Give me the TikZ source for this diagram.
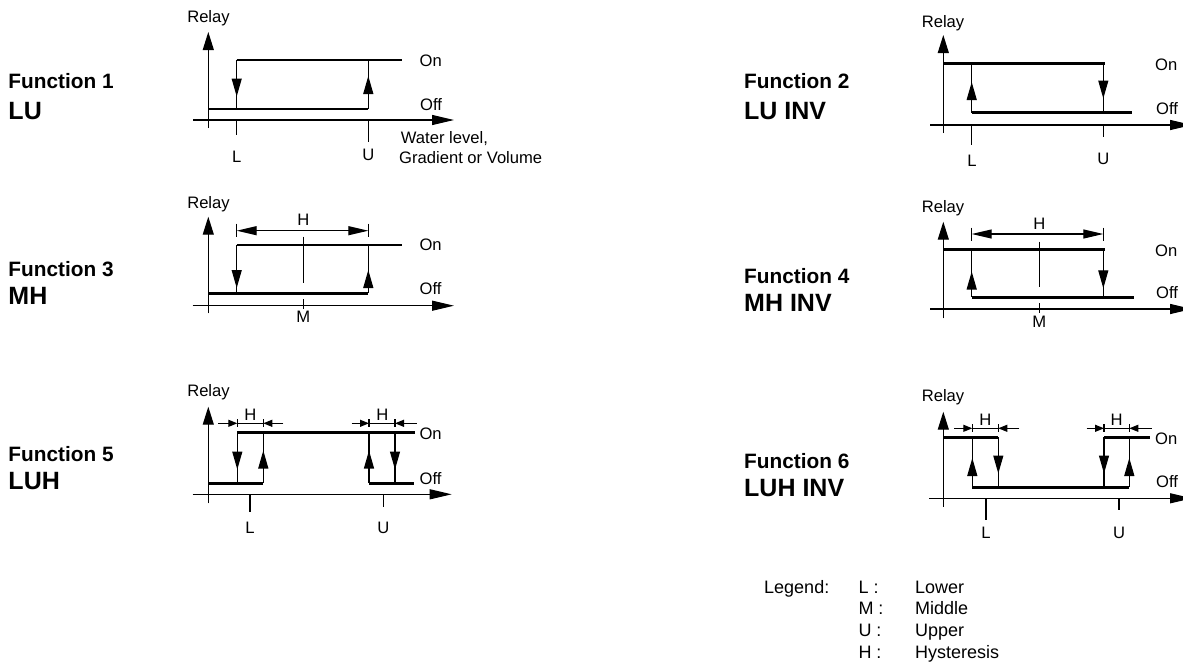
\documentclass[tikz,border=0pt]{standalone}
\usepackage{fontspec}
\setmainfont{Liberation Sans}
\usetikzlibrary{arrows.meta}
\tikzset{
  tr/.style={line width=1.2pt},
  lvl/.style={line width=2.6pt},
  trarr/.style={line width=1.2pt,-{Triangle[length=18pt,width=10pt]}},
  yarr/.style={line width=1.2pt,-{Triangle[length=18pt,width=11pt]}},
  xarr/.style={line width=1.2pt,-{Triangle[length=22pt,width=10pt]}},
  harr/.style={line width=1.2pt,-{Triangle[length=9pt,width=7pt]}},
  dimarr/.style={line width=1.2pt,{Triangle[length=20pt,width=9pt]}-{Triangle[length=20pt,width=9pt]}},
  lbl/.style={font=\fontsize{16.6}{19}\selectfont, inner sep=0pt, anchor=base},
  lbll/.style={lbl, anchor=base west},
  fn/.style={font=\fontsize{20.8}{24}\selectfont\bfseries, anchor=base west, inner sep=0pt},
  nm/.style={font=\fontsize{25}{30}\selectfont\bfseries, anchor=base west, inner sep=0pt},
  leg/.style={font=\fontsize{18}{21}\selectfont, anchor=base west, inner sep=0pt},
}
\begin{document}
\begin{tikzpicture}[x=1pt,y=-1pt]
\useasboundingbox (0,0) rectangle (1183,662);

% ---------- Function labels ----------
\node[fn] (f1) at (8.3,88) {Function 1};
\node[nm] (n1) at (8.3,119) {LU};
\node[fn] (f2) at (744,88) {Function 2};
\node[nm] (n2) at (744,119) {LU INV};
\node[fn] (f3) at (8.3,276) {Function 3};
\node[nm] (n3) at (8.3,304) {MH};
\node[fn] (f4) at (744,283) {Function 4};
\node[nm] (n4) at (744,311) {MH INV};
\node[fn] (f5) at (8.3,461) {Function 5};
\node[nm] (n5) at (8.3,489) {LUH};
\node[fn] (f6) at (744,468) {Function 6};
\node[nm] (n6) at (744,496) {LUH INV};

% ---------- Panel 1: LU ----------
\draw[yarr] (208.3,128) -- (208.3,32);
\draw[xarr] (193,120) -- (454,120);
\draw[lvl] (236.7,60) -- (401.7,60);
\draw[lvl] (208.3,109) -- (368.3,109);
\draw[tr] (236.7,60) -- (236.7,109);
\draw[trarr] (236.7,78.5) -- (236.7,96.5);
\draw[tr] (368.3,60) -- (368.3,109);
\draw[trarr] (368.3,94) -- (368.3,76);
\draw[tr] (236.7,120) -- (236.7,135);
\draw[tr] (368.3,120) -- (368.3,142);
\node[lbl] (p1relay) at (208.5,22.7) {Relay};
\node[lbll] (p1on) at (419.5,66) {On};
\node[lbll] (p1off) at (420,110) {Off};
\node[lbl] (p1l) at (236.7,162.7) {L};
\node[lbl] (p1u) at (368.3,160.7) {U};
\node[lbll] (p1w1) at (400.7,143.3) {Water level,};
\node[lbll] (p1w2) at (399,163.3) {Gradient or Volume};

% ---------- Panel 2: LU INV ----------
\draw[yarr] (943.3,133) -- (943.3,35);
\draw[xarr] (930,125) -- (1192,125);
\draw[lvl] (943.3,63.3) -- (1105,63.3);
\draw[lvl] (971.7,112.7) -- (1132.3,112.7);
\draw[tr] (971.7,63.3) -- (971.7,112.7);
\draw[trarr] (971.7,100) -- (971.7,82);
\draw[tr] (1103.3,63.3) -- (1103.3,112.7);
\draw[trarr] (1103.3,80) -- (1103.3,98.5);
\draw[tr] (971.7,125) -- (971.7,145);
\draw[tr] (1103.3,125) -- (1103.3,136.7);
\node[lbl] (p2relay) at (943,27.3) {Relay};
\node[lbll] (p2on) at (1155,70.7) {On};
\node[lbll] (p2off) at (1156,114) {Off};
\node[lbl] (p2l) at (972,166.7) {L};
\node[lbl] (p2u) at (1103.3,164) {U};

% ---------- Panel 3: MH ----------
\draw[yarr] (208.3,313.3) -- (208.3,216.7);
\draw[xarr] (192.7,305.7) -- (454,305.7);
\draw[lvl] (236.7,245) -- (401.7,245);
\draw[lvl] (208.3,293.3) -- (368.3,293.3);
\draw[tr] (236.7,245) -- (236.7,293.3);
\draw[trarr] (236.7,270) -- (236.7,288);
\draw[tr] (368.3,245) -- (368.3,293.3);
\draw[trarr] (368.3,288) -- (368.3,270);
\draw[tr] (303.3,236.7) -- (303.3,283.3);
\draw[tr] (303.3,299) -- (303.3,309);
\draw[dimarr] (236.7,230.7) -- (368.3,230.7);
\draw[tr] (236.7,223.7) -- (236.7,237);
\draw[tr] (368.3,223.7) -- (368.3,237);
\node[lbl] (p3relay) at (208.5,208.3) {Relay};
\node[lbl] (p3h) at (303.3,225.7) {H};
\node[lbll] (p3on) at (419.3,250.7) {On};
\node[lbll] (p3off) at (419.5,294.3) {Off};
\node[lbl] (p3m) at (303.3,322.3) {M};

% ---------- Panel 4: MH INV ----------
\draw[yarr] (943.3,318.3) -- (943.3,221.7);
\draw[xarr] (930,309) -- (1192,309);
\draw[lvl] (943.3,249.3) -- (1105,249.3);
\draw[lvl] (971.7,297.3) -- (1134.3,297.3);
\draw[tr] (971.7,249.3) -- (971.7,297.3);
\draw[trarr] (971.7,289.5) -- (971.7,271.5);
\draw[tr] (1103.3,249.3) -- (1103.3,297.3);
\draw[trarr] (1103.3,270) -- (1103.3,288.3);
\draw[tr] (1039.3,241.7) -- (1039.3,287.3);
\draw[tr] (1039.3,303.3) -- (1039.3,313);
\draw[dimarr] (971.7,234) -- (1103.3,234);
\draw[tr] (971.7,227.5) -- (971.7,240.5);
\draw[tr] (1103.3,227.5) -- (1103.3,240.5);
\node[lbl] (p4relay) at (943,212.7) {Relay};
\node[lbl] (p4h) at (1039.3,229.3) {H};
\node[lbll] (p4on) at (1155,256) {On};
\node[lbll] (p4off) at (1156,298.3) {Off};
\node[lbl] (p4m) at (1039.3,327.3) {M};

% ---------- Panel 5: LUH ----------
\draw[yarr] (208.3,503.3) -- (208.3,406.7);
\draw[xarr] (192.7,494.3) -- (451.7,494.3);
\draw[lvl] (237.3,432.7) -- (415,432.7);
\draw[lvl] (208.3,483.3) -- (263.3,483.3);
\draw[lvl] (369,483.3) -- (414,483.3);
\draw[tr] (237.3,432.7) -- (237.3,483.3);
\draw[trarr] (237.3,451) -- (237.3,469.5);
\draw[tr] (263.3,432.7) -- (263.3,483.3);
\draw[trarr] (263.3,469) -- (263.3,450.5);
\draw[tr] (369,432.7) -- (369,483.3);
\draw[trarr] (369,469) -- (369,450.5);
\draw[tr] (395,432.7) -- (395,483.3);
\draw[trarr] (395,451) -- (395,469.5);
\draw[tr] (250,494.3) -- (250,511.7);
\draw[tr] (383.3,494.3) -- (383.3,506.7);
% H dimensions
\draw[harr] (218.3,423.3) -- (237.3,423.3);
\draw[tr] (237.3,423.3) -- (263.3,423.3);
\draw[harr] (283.3,423.3) -- (263.3,423.3);
\draw[tr] (237.3,419.3) -- (237.3,427.3);
\draw[tr] (263.3,419.3) -- (263.3,427.3);
\draw[harr] (351.7,423.3) -- (369,423.3);
\draw[tr] (369,423.3) -- (395,423.3);
\draw[harr] (416.7,423.3) -- (395,423.3);
\draw[tr] (369,419.3) -- (369,427.3);
\draw[tr] (395,419.3) -- (395,427.3);
\node[lbl] (p5relay) at (208.5,396) {Relay};
\node[lbl] (p5h1) at (250.3,420) {H};
\node[lbl] (p5h2) at (382.3,420) {H};
\node[lbll] (p5on) at (419.3,439) {On};
\node[lbll] (p5off) at (419.5,484) {Off};
\node[lbl] (p5l) at (250,533.3) {L};
\node[lbl] (p5u) at (383.3,533.3) {U};

% ---------- Panel 6: LUH INV ----------
\draw[yarr] (943.3,506.7) -- (943.3,411.7);
\draw[xarr] (929.3,498.3) -- (1192,498.3);
\draw[lvl] (943.3,437.3) -- (998.3,437.3);
\draw[lvl] (1104,437.3) -- (1150,437.3);
\draw[lvl] (972.3,487.3) -- (1129.3,487.3);
\draw[tr] (972.3,437.3) -- (972.3,487.3);
\draw[trarr] (972.3,476) -- (972.3,458);
\draw[tr] (998.3,437.3) -- (998.3,487.3);
\draw[trarr] (998.3,455.5) -- (998.3,473.5);
\draw[tr] (1104,437.3) -- (1104,487.3);
\draw[trarr] (1104,455.5) -- (1104,473.5);
\draw[tr] (1129.3,437.3) -- (1129.3,487.3);
\draw[trarr] (1129.3,476) -- (1129.3,458);
\draw[tr] (986,498.3) -- (986,520);
\draw[tr] (1119,498.3) -- (1119,510);
% H dimensions
\draw[harr] (954,428.3) -- (972.3,428.3);
\draw[tr] (972.3,428.3) -- (998.3,428.3);
\draw[harr] (1019.3,428.3) -- (998.3,428.3);
\draw[tr] (972.3,424.3) -- (972.3,432.3);
\draw[tr] (998.3,424.3) -- (998.3,432.3);
\draw[harr] (1086.7,428.3) -- (1104,428.3);
\draw[tr] (1104,428.3) -- (1129.3,428.3);
\draw[harr] (1151.7,428.3) -- (1129.3,428.3);
\draw[tr] (1104,424.3) -- (1104,432.3);
\draw[tr] (1129.3,424.3) -- (1129.3,432.3);
\node[lbl] (p6relay) at (943,401) {Relay};
\node[lbl] (p6h1) at (985.3,425) {H};
\node[lbl] (p6h2) at (1116.7,425) {H};
\node[lbll] (p6on) at (1155,444) {On};
\node[lbll] (p6off) at (1156,487.3) {Off};
\node[lbl] (p6l) at (986,538.3) {L};
\node[lbl] (p6u) at (1119,538.3) {U};

% ---------- Legend ----------
\node[leg] (legt) at (764,593.3) {Legend:};
\node[leg] (legk1) at (858.3,593.3) {L :};
\node[leg] (legk2) at (858.3,614) {M :};
\node[leg] (legk3) at (858.3,636) {U :};
\node[leg] (legk4) at (858.3,658.3) {H :};
\node[leg] (legv1) at (915,593.3) {Lower};
\node[leg] (legv2) at (915,614) {Middle};
\node[leg] (legv3) at (915,636) {Upper};
\node[leg] (legv4) at (915,658.3) {Hysteresis};
\end{tikzpicture}
\end{document}
